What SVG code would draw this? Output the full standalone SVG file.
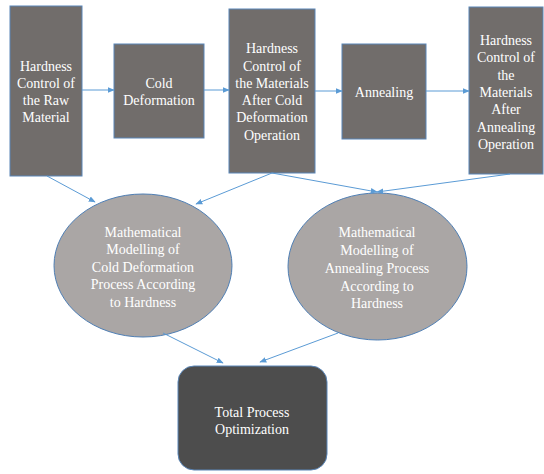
<svg xmlns="http://www.w3.org/2000/svg" width="544" height="474" viewBox="0 0 544 474">
  <defs>
    <marker id="arrow" viewBox="0 0 10 10" refX="9" refY="5" markerWidth="7" markerHeight="7" orient="auto" markerUnits="userSpaceOnUse">
      <path d="M0,1 L10,5 L0,9 z" fill="#5b9bd5"/>
    </marker>
    <style>
      .box { fill: #716d6b; stroke: #5a86b8; stroke-width: 1; }
      .oval { fill: #aaa6a5; stroke: #4f7fb5; stroke-width: 1; }
      .final { fill: #4d4d4d; stroke: #5a86b8; stroke-width: 1; }
      .link { stroke: #5b9bd5; stroke-width: 1; fill: none; marker-end: url(#arrow); }
    </style>
  </defs>

  <rect width="544" height="474" fill="#ffffff"/>

  <!-- process chain -->
  <g id="raw-hardness">
    <rect class="box" x="10" y="6" width="72" height="170"/>
    <text font-family="Liberation Serif" font-size="14" fill="#ffffff" text-anchor="middle" x="46" y="71">Hardness</text>
    <text font-family="Liberation Serif" font-size="14" fill="#ffffff" text-anchor="middle" x="46" y="88">Control of</text>
    <text font-family="Liberation Serif" font-size="14" fill="#ffffff" text-anchor="middle" x="46" y="105">the Raw</text>
    <text font-family="Liberation Serif" font-size="14" fill="#ffffff" text-anchor="middle" x="46" y="122">Material</text>
  </g>
  <g id="cold-deformation">
    <rect class="box" x="114" y="44" width="90" height="94"/>
    <text font-family="Liberation Serif" font-size="14" fill="#ffffff" text-anchor="middle" x="159" y="88">Cold</text>
    <text font-family="Liberation Serif" font-size="14" fill="#ffffff" text-anchor="middle" x="159" y="105">Deformation</text>
  </g>
  <g id="post-cold-hardness">
    <rect class="box" x="229" y="9" width="86" height="164"/>
    <text font-family="Liberation Serif" font-size="14" fill="#ffffff" text-anchor="middle" x="272" y="53">Hardness</text>
    <text font-family="Liberation Serif" font-size="14" fill="#ffffff" text-anchor="middle" x="272" y="71">Control of</text>
    <text font-family="Liberation Serif" font-size="14" fill="#ffffff" text-anchor="middle" x="272" y="88">the Materials</text>
    <text font-family="Liberation Serif" font-size="14" fill="#ffffff" text-anchor="middle" x="272" y="105">After Cold</text>
    <text font-family="Liberation Serif" font-size="14" fill="#ffffff" text-anchor="middle" x="272" y="122">Deformation</text>
    <text font-family="Liberation Serif" font-size="14" fill="#ffffff" text-anchor="middle" x="272" y="140">Operation</text>
  </g>
  <g id="annealing">
    <rect class="box" x="342" y="44" width="84" height="95"/>
    <text font-family="Liberation Serif" font-size="14" fill="#ffffff" text-anchor="middle" x="384" y="97">Annealing</text>
  </g>
  <g id="post-anneal-hardness">
    <rect class="box" x="469" y="7" width="74" height="167"/>
    <text font-family="Liberation Serif" font-size="14" fill="#ffffff" text-anchor="middle" x="506" y="45">Hardness</text>
    <text font-family="Liberation Serif" font-size="14" fill="#ffffff" text-anchor="middle" x="506" y="62">Control of</text>
    <text font-family="Liberation Serif" font-size="14" fill="#ffffff" text-anchor="middle" x="506" y="80">the</text>
    <text font-family="Liberation Serif" font-size="14" fill="#ffffff" text-anchor="middle" x="506" y="97">Materials</text>
    <text font-family="Liberation Serif" font-size="14" fill="#ffffff" text-anchor="middle" x="506" y="114">After</text>
    <text font-family="Liberation Serif" font-size="14" fill="#ffffff" text-anchor="middle" x="506" y="132">Annealing</text>
    <text font-family="Liberation Serif" font-size="14" fill="#ffffff" text-anchor="middle" x="506" y="149">Operation</text>
  </g>

  <!-- models -->
  <g id="cold-model">
    <ellipse class="oval" cx="143" cy="265.5" rx="89" ry="71.5"/>
    <text font-family="Liberation Serif" font-size="14" fill="#ffffff" text-anchor="middle" x="143" y="237">Mathematical</text>
    <text font-family="Liberation Serif" font-size="14" fill="#ffffff" text-anchor="middle" x="143" y="254">Modelling of</text>
    <text font-family="Liberation Serif" font-size="14" fill="#ffffff" text-anchor="middle" x="143" y="272">Cold Deformation</text>
    <text font-family="Liberation Serif" font-size="14" fill="#ffffff" text-anchor="middle" x="143" y="289">Process According</text>
    <text font-family="Liberation Serif" font-size="14" fill="#ffffff" text-anchor="middle" x="143" y="307">to Hardness</text>
  </g>
  <g id="anneal-model">
    <ellipse class="oval" cx="377.5" cy="266.5" rx="89.5" ry="73.5"/>
    <text font-family="Liberation Serif" font-size="14" fill="#ffffff" text-anchor="middle" x="377" y="237">Mathematical</text>
    <text font-family="Liberation Serif" font-size="14" fill="#ffffff" text-anchor="middle" x="377" y="255">Modelling of</text>
    <text font-family="Liberation Serif" font-size="14" fill="#ffffff" text-anchor="middle" x="377" y="273">Annealing Process</text>
    <text font-family="Liberation Serif" font-size="14" fill="#ffffff" text-anchor="middle" x="377" y="291">According to</text>
    <text font-family="Liberation Serif" font-size="14" fill="#ffffff" text-anchor="middle" x="377" y="308">Hardness</text>
  </g>

  <!-- result -->
  <g id="optimization">
    <rect class="final" x="178" y="366" width="149" height="104" rx="16" ry="16"/>
    <text font-family="Liberation Serif" font-size="14" fill="#ffffff" text-anchor="middle" x="252" y="417">Total Process</text>
    <text font-family="Liberation Serif" font-size="14" fill="#ffffff" text-anchor="middle" x="252" y="434">Optimization</text>
  </g>

  <!-- connectors -->
  <g id="connectors">
    <line class="link" x1="82" y1="90" x2="114" y2="90"/>
    <line class="link" x1="204" y1="90" x2="229" y2="90"/>
    <line class="link" x1="315" y1="91" x2="342" y2="91"/>
    <line class="link" x1="426" y1="91" x2="469" y2="91"/>
    <line class="link" x1="47" y1="176" x2="95" y2="202"/>
    <line class="link" x1="272" y1="173" x2="196" y2="204"/>
    <line class="link" x1="272" y1="173" x2="377" y2="192"/>
    <line class="link" x1="510" y1="174" x2="377" y2="192"/>
    <line class="link" x1="163" y1="333" x2="223" y2="363"/>
    <line class="link" x1="338" y1="333" x2="260" y2="362"/>
  </g>
</svg>
